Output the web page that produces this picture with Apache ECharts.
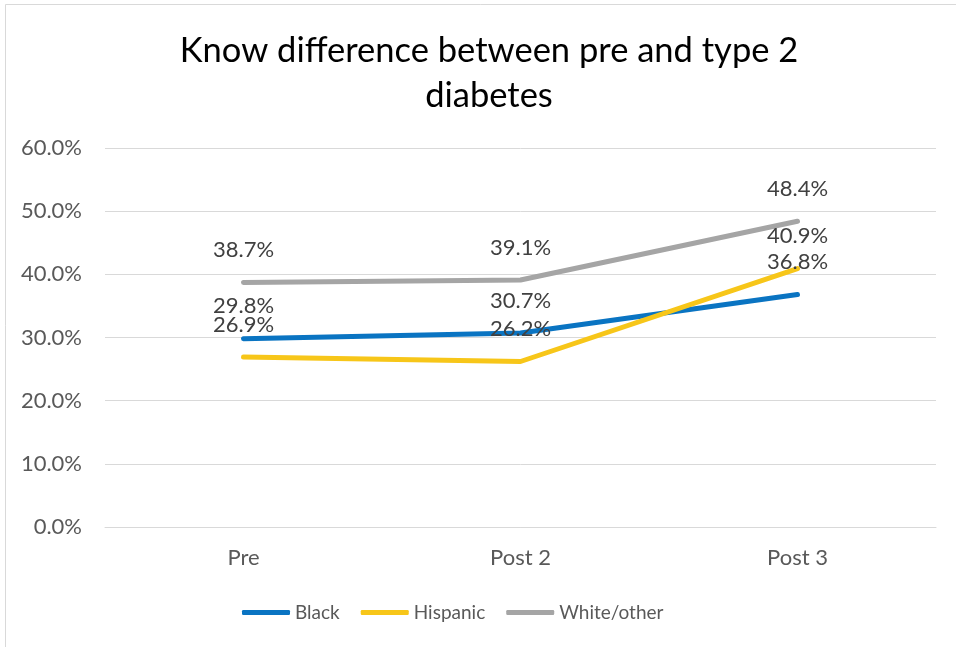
<!DOCTYPE html>
<html>
<head>
<meta charset="utf-8">
<script src="https://cdn.jsdelivr.net/npm/echarts@6/dist/echarts.min.js"></script>
<style>
  html, body { margin: 0; padding: 0; background: #fff; }
  #chart { width: 956px; height: 647px; }
</style>
</head>
<body>
<div id="chart"></div>
<script>
// Survey rounds along the x axis
const categories = ['Pre', 'Post 2', 'Post 3'];
// Share (%) knowing the difference between prediabetes and type 2 diabetes
const black = [29.8, 30.7, 36.8];
const hispanic = [26.9, 26.2, 40.9];
const whiteOther = [38.7, 39.1, 48.4];
const seriesNames = ['Black', 'Hispanic', 'White/other'];

const FONT = 'Lato, "Open Sans", sans-serif';
const colors = ['#0A74C2', '#F7C619', '#A5A5A5'];

function lineSeries(name, data, color) {
  return {
    name: name,
    type: 'line',
    data: data,
    // tiny marker hidden under the thick line, keeps the value labels visible
    symbol: 'circle',
    symbolSize: 1,
    showSymbol: true,
    itemStyle: { color: color },
    lineStyle: { width: 5, color: color, cap: 'round' },
    label: {
      show: true,
      position: 'top',
      distance: 21,
      fontFamily: FONT,
      fontSize: 22,
      color: '#404040',
      formatter: p => p.value.toFixed(1) + '%'
    },
    emphasis: { disabled: true },
    z: 3
  };
}

const chart = echarts.init(document.getElementById('chart'), null, { renderer: 'canvas' });
chart.setOption({
  animation: false,
  backgroundColor: '#fff',
  title: {
    text: 'Know difference between pre and type 2\ndiabetes',
    left: 484,
    textAlign: 'center',
    top: 23,
    textStyle: {
      fontFamily: FONT,
      fontSize: 34.5,
      fontWeight: 'normal',
      color: '#000',
      lineHeight: 45
    }
  },
  graphic: [{
    type: 'polyline',
    shape: { points: [[5.5, 647], [5.5, 4.5], [956, 4.5]] },
    style: { stroke: '#D9D9D9', lineWidth: 1, fill: null },
    silent: true
  }],
  legend: {
    data: seriesNames,
    top: 598,
    left: 237,
    icon: 'roundRect',
    itemWidth: 48,
    itemHeight: 5,
    itemGap: 21,
    textStyle: { fontFamily: FONT, fontSize: 19, color: '#595959' }
  },
  grid: { left: 105, right: 20, top: 148, bottom: 120 },
  xAxis: {
    type: 'category',
    data: categories,
    boundaryGap: true,
    axisLine: { show: true, lineStyle: { color: '#D9D9D9', width: 1 } },
    axisTick: { show: false },
    axisLabel: { fontFamily: FONT, fontSize: 22, color: '#595959', margin: 20 }
  },
  yAxis: {
    type: 'value',
    min: 0,
    max: 60,
    interval: 10,
    axisLine: { show: false },
    axisTick: { show: false },
    splitLine: { lineStyle: { color: '#D9D9D9', width: 1 } },
    axisLabel: {
      fontFamily: FONT, fontSize: 22, color: '#595959', margin: 23,
      formatter: v => v.toFixed(1) + '%'
    }
  },
  series: [
    lineSeries(seriesNames[0], black, colors[0]),
    lineSeries(seriesNames[1], hispanic, colors[1]),
    lineSeries(seriesNames[2], whiteOther, colors[2])
  ]
});
</script>
</body>
</html>
